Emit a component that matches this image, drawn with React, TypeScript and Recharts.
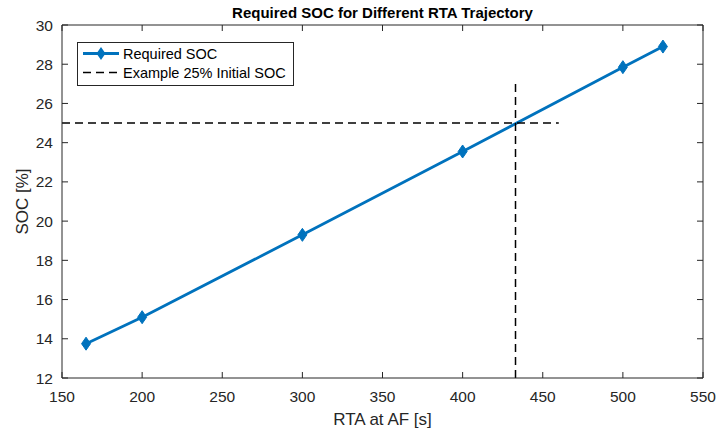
import React from 'react';
import { ComposedChart, Line, XAxis, YAxis, Label } from 'recharts';

// ---- data ----
const rtaSeconds = [165, 200, 300, 400, 500, 525];
const requiredSoc = [13.75, 15.1, 19.3, 23.55, 27.85, 28.9];
const exampleSocLevel = 25;
const exampleHorizRta = [150, 460];
const exampleRta = 433;
const exampleVertSoc = [12, 27];
const xTicks = [150, 200, 250, 300, 350, 400, 450, 500, 550];
const yTicks = [12, 14, 16, 18, 20, 22, 24, 26, 28, 30];
const seriesNames = ['Required SOC', 'Example 25% Initial SOC'];
const titleText = 'Required SOC for Different RTA Trajectory';
const xLabelText = 'RTA at AF [s]';
const yLabelText = 'SOC [%]';

const requiredData = rtaSeconds.map((r, i) => ({ rta: r, soc: requiredSoc[i] }));
const horizData = exampleHorizRta.map((r) => ({ rta: r, soc: exampleSocLevel }));
const vertData = exampleVertSoc.map((s) => ({ rta: exampleRta, soc: s }));

const FONT = '"Liberation Sans", Arial, Helvetica, sans-serif';
const BLUE = '#0072BD';
const AXIS = '#262626';
const TICK_LEN = 6;
const X_MARGIN = 13;
const Y_MARGIN = 9;

const Diamond = (p: any) => {
  const { cx, cy } = p;
  if (cx == null || cy == null) return null;
  return (
    <path
      d={`M${cx},${cy - 6.5}L${cx + 4.5},${cy}L${cx},${cy + 6.5}L${cx - 4.5},${cy}Z`}
      fill={BLUE}
      stroke={BLUE}
      strokeWidth={1}
    />
  );
};

const BottomTick = (p: any) => {
  const { x, y, payload } = p;
  const base = Number(y) - X_MARGIN;
  return (
    <g>
      <line x1={x} y1={base} x2={x} y2={base - TICK_LEN} stroke={AXIS} strokeWidth={1} />
      <text x={x} y={y} dy="0.71em" textAnchor="middle" fontFamily={FONT} fontSize={15.5} fill={AXIS}>
        {payload.value}
      </text>
    </g>
  );
};

const LeftTick = (p: any) => {
  const { x, y, payload } = p;
  const base = Number(x) + Y_MARGIN;
  return (
    <g>
      <line x1={base} y1={y} x2={base + TICK_LEN} y2={y} stroke={AXIS} strokeWidth={1} />
      <text x={x} y={y} dy="0.355em" textAnchor="end" fontFamily={FONT} fontSize={15.5} fill={AXIS}>
        {payload.value}
      </text>
    </g>
  );
};

const TopTick = (p: any) => {
  const { x, y } = p;
  return <line x1={x} y1={y} x2={x} y2={Number(y) + TICK_LEN} stroke={AXIS} strokeWidth={1} />;
};

const RightTick = (p: any) => {
  const { x, y } = p;
  return <line x1={x} y1={y} x2={Number(x) - TICK_LEN} y2={y} stroke={AXIS} strokeWidth={1} />;
};

const LegendBox = () => (
  <svg width={217} height={44} style={{ position: 'absolute', left: 77, top: 42 }}>
    <rect x={0.5} y={0.5} width={216} height={43} fill="#fff" stroke={AXIS} strokeWidth={1} />
    <line x1={6} y1={11.5} x2={42} y2={11.5} stroke={BLUE} strokeWidth={2.8} />
    <path d="M24,5L28.5,11.5L24,18L19.5,11.5Z" fill={BLUE} />
    <text x={46} y={16.5} fontFamily={FONT} fontSize={14.5} fill="#000">{seriesNames[0]}</text>
    <line x1={6} y1={30.5} x2={42} y2={30.5} stroke="#000" strokeWidth={1.5} strokeDasharray="8 5" />
    <text x={46} y={35.5} fontFamily={FONT} fontSize={14.5} fill="#000">{seriesNames[1]}</text>
  </svg>
);

export default function App() {
  return (
    <div style={{ position: 'absolute', left: 0, top: 0, width: 716, height: 433, background: '#fff' }}>
      <ComposedChart width={716} height={433} margin={{ top: 24, right: 12, bottom: 15, left: 12 }}>
        <XAxis
          xAxisId="b"
          dataKey="rta"
          type="number"
          domain={[150, 550]}
          ticks={xTicks}
          interval={0}
          allowDataOverflow
          height={40}
          tickSize={0}
          tickLine={false}
          tickMargin={X_MARGIN}
          stroke={AXIS}
          tick={<BottomTick />}
        >
          <Label
            content={(props: any) => {
              const vb = props.viewBox || { x: 62, width: 641 };
              return (
                <text x={vb.x + vb.width / 2} y={425} textAnchor="middle" fontFamily={FONT} fontSize={17} fill={AXIS}>
                  {xLabelText}
                </text>
              );
            }}
          />
        </XAxis>
        <XAxis
          xAxisId="t"
          dataKey="rta"
          orientation="top"
          type="number"
          domain={[150, 550]}
          ticks={xTicks}
          interval={0}
          allowDataOverflow
          height={1}
          tickSize={0}
          tickMargin={0}
          tickLine={false}
          tick={<TopTick />}
          stroke={AXIS}
        />
        <YAxis
          yAxisId="l"
          dataKey="soc"
          type="number"
          domain={[12, 30]}
          ticks={yTicks}
          interval={0}
          allowDataOverflow
          width={50}
          tickSize={0}
          tickLine={false}
          tickMargin={Y_MARGIN}
          stroke={AXIS}
          tick={<LeftTick />}
        >
          <Label
            content={(props: any) => {
              const vb = props.viewBox || { y: 25, height: 353 };
              const cy = vb.y + vb.height / 2;
              return (
                <text transform={`translate(28,${cy}) rotate(-90)`} textAnchor="middle" fontFamily={FONT} fontSize={17} fill={AXIS}>
                  {yLabelText}
                </text>
              );
            }}
          />
        </YAxis>
        <YAxis
          yAxisId="r"
          dataKey="soc"
          orientation="right"
          type="number"
          domain={[12, 30]}
          ticks={yTicks}
          interval={0}
          allowDataOverflow
          width={1}
          tickSize={0}
          tickMargin={0}
          tickLine={false}
          tick={<RightTick />}
          stroke={AXIS}
        />
        {/* invisible series binding the box axes (top / right) */}
        <Line
          xAxisId="t"
          yAxisId="r"
          data={requiredData}
          dataKey="soc"
          stroke="none"
          dot={false}
          activeDot={false}
          legendType="none"
          isAnimationActive={false}
        />
        <Line
          xAxisId="b"
          yAxisId="l"
          data={requiredData}
          dataKey="soc"
          name={seriesNames[0]}
          stroke={BLUE}
          strokeWidth={2.8}
          dot={<Diamond />}
          activeDot={false}
          isAnimationActive={false}
        />
        <Line
          xAxisId="b"
          yAxisId="l"
          data={horizData}
          dataKey="soc"
          name={seriesNames[1]}
          stroke="#000"
          strokeWidth={1.5}
          strokeDasharray="8 5"
          dot={false}
          activeDot={false}
          isAnimationActive={false}
        />
        <Line
          xAxisId="b"
          yAxisId="l"
          data={vertData}
          dataKey="soc"
          name={seriesNames[1] + ' vertical'}
          stroke="#000"
          strokeWidth={1.5}
          strokeDasharray="8 5"
          dot={false}
          activeDot={false}
          isAnimationActive={false}
        />
      </ComposedChart>
      <svg width={716} height={30} style={{ position: 'absolute', left: 0, top: 0, pointerEvents: 'none' }}>
        <text x={382.5} y={17.5} textAnchor="middle" fontFamily={FONT} fontSize={15} fontWeight="bold" fill="#000">
          {titleText}
        </text>
      </svg>
      <LegendBox />
    </div>
  );
}
